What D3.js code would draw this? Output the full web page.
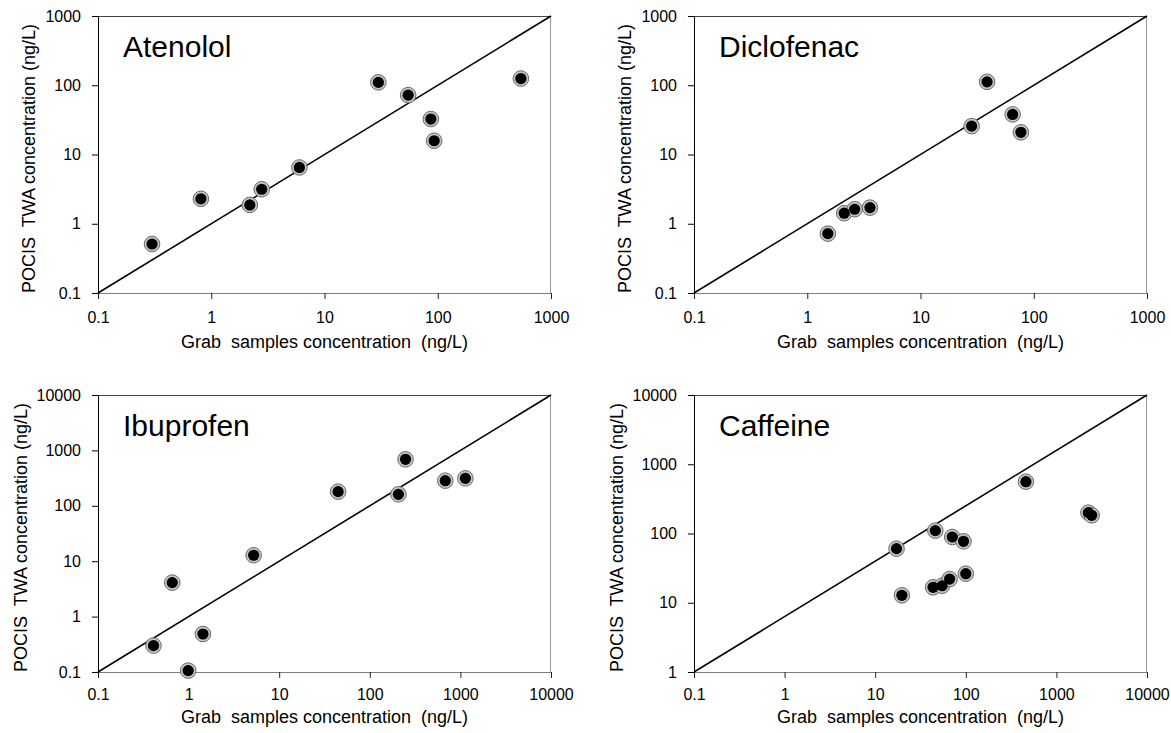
<!DOCTYPE html>
<html>
<head>
<meta charset="utf-8">
<script src="https://cdn.jsdelivr.net/npm/d3@7"></script>
<style>
  html, body { margin: 0; padding: 0; background: #fff; }
  svg text { font-family: "Liberation Sans", Arial, sans-serif; fill: #000; }
</style>
</head>
<body>
<svg id="chart" width="1171" height="733"></svg>
<script>
// Grab-sample vs POCIS TWA concentrations (ng/L), one pair of arrays per compound
const atenololGrab  = [0.30, 0.81, 2.19, 2.79, 6.0, 29.9, 54.8, 86.9, 93.0, 542];
const atenololPocis = [0.51, 2.29, 1.87, 3.15, 6.5, 110, 72.0, 32.5, 15.8, 125];

const diclofenacGrab  = [1.52, 2.12, 2.62, 3.58, 28.3, 38.7, 65.1, 77.0];
const diclofenacPocis = [0.72, 1.42, 1.62, 1.71, 25.7, 112, 37.9, 20.9];

const ibuprofenGrab  = [0.41, 0.66, 0.99, 1.44, 5.22, 44.7, 207, 248, 681, 1135];
const ibuprofenPocis = [0.30, 4.10, 0.106, 0.485, 12.8, 180, 161, 690, 284, 313];

const caffeineGrab  = [17.2, 19.7, 46.1, 43.5, 54.8, 66.3, 70.9, 94.4, 100, 461, 2254, 2455];
const caffeinePocis = [60.4, 12.8, 110, 16.7, 17.6, 22.0, 89.0, 77.1, 26.3, 560, 200, 183];

// axis ranges and tick labels
const xTicksSmall = ["0.1", "1", "10", "100", "1000"];
const xTicksLarge = ["0.1", "1", "10", "100", "1000", "10000"];
const yTicksAten  = ["0.1", "1", "10", "100", "1000"];
const yTicksIbu   = ["0.1", "1", "10", "100", "1000", "10000"];
const yTicksCaf   = ["1", "10", "100", "1000", "10000"];

const compounds = ["Atenolol", "Diclofenac", "Ibuprofen", "Caffeine"];
const xLabel = "Grab  samples concentration  (ng/L)";
const yLabel = "POCIS  TWA concentration (ng/L)";

const panels = [
  { name: compounds[0], gx: atenololGrab,   py: atenololPocis,   xt: xTicksSmall, yt: yTicksAten, left: 98,  top: 16,  xOff: 55, yOff: -63 },
  { name: compounds[1], gx: diclofenacGrab, py: diclofenacPocis, xt: xTicksSmall, yt: yTicksAten, left: 694, top: 16,  xOff: 55, yOff: -63 },
  { name: compounds[2], gx: ibuprofenGrab,  py: ibuprofenPocis,  xt: xTicksLarge, yt: yTicksIbu,  left: 98,  top: 395, xOff: 51, yOff: -71 },
  { name: compounds[3], gx: caffeineGrab,   py: caffeinePocis,   xt: xTicksLarge, yt: yTicksCaf,  left: 694, top: 395, xOff: 51, yOff: -71 }
];

const W = 453, H = 277;
const svg = d3.select("#chart");

panels.forEach(p => {
  const xVals = p.xt.map(Number), yVals = p.yt.map(Number);
  const x = d3.scaleLog().domain([xVals[0], xVals[xVals.length - 1]]).range([0, W]);
  const y = d3.scaleLog().domain([yVals[0], yVals[yVals.length - 1]]).range([H, 0]);

  const g = svg.append("g").attr("transform", `translate(${p.left},${p.top})`);

  // frame: top and right edges
  g.append("line").attr("x1", 0).attr("x2", W).attr("y1", 0.5).attr("y2", 0.5)
    .attr("stroke", "#444").attr("stroke-width", 1);
  g.append("line").attr("x1", W - 0.5).attr("x2", W - 0.5).attr("y1", 0).attr("y2", H)
    .attr("stroke", "#999").attr("stroke-width", 1);

  // x axis
  const xa = g.append("g").attr("transform", `translate(0,${H})`)
    .call(d3.axisBottom(x).tickValues(xVals).tickFormat((d, i) => p.xt[i]).tickSize(6).tickSizeOuter(0));
  xa.select(".domain").attr("stroke", "#7f7f7f");
  xa.selectAll(".tick line").attr("stroke", "#222");
  xa.selectAll(".tick text").attr("y", null).attr("dy", null)
    .attr("y", p.top < 100 ? 30 : 28).attr("font-size", 16);
  xa.attr("font-family", null).attr("font-size", null);

  // y axis
  const ya = g.append("g")
    .call(d3.axisLeft(y).tickValues(yVals).tickFormat((d, i) => p.yt[i]).tickSize(6).tickSizeOuter(0).tickPadding(11));
  ya.select(".domain").attr("stroke", "#000");
  ya.selectAll(".tick line").attr("stroke", "#000");
  ya.selectAll(".tick text").attr("font-size", 16);
  ya.attr("font-family", null).attr("font-size", null);

  // reference diagonal across the plot area
  const diag = [[x.domain()[0], y.domain()[0]], [x.domain()[1], y.domain()[1]]];
  g.append("path").datum(diag)
    .attr("d", d3.line().x(d => x(d[0])).y(d => y(d[1])))
    .attr("stroke", "#000").attr("stroke-width", 1.6).attr("fill", "none");

  // points: grey ringed black disks
  const pts = p.gx.map((v, i) => [v, p.py[i]]);
  const pg = g.append("g");
  pg.selectAll("circle.ring").data(pts).join("circle").attr("class", "ring")
    .attr("cx", d => x(d[0])).attr("cy", d => y(d[1])).attr("r", 7.8)
    .attr("fill", "#c4c4c4").attr("stroke", "#6a6a6a").attr("stroke-width", 1);
  pg.selectAll("circle.dot").data(pts).join("circle").attr("class", "dot")
    .attr("cx", d => x(d[0])).attr("cy", d => y(d[1])).attr("r", 5.6)
    .attr("fill", "#000");

  // compound name
  g.append("text").attr("x", 25).attr("y", 41).attr("font-size", 30).text(p.name);

  // axis titles
  g.append("text").attr("x", W / 2).attr("y", H + p.xOff).attr("text-anchor", "middle")
    .attr("font-size", 18).style("white-space", "pre").text(xLabel);
  g.append("text").attr("transform", `translate(${p.yOff},${H / 2 + 4}) rotate(-90)`)
    .attr("text-anchor", "middle").attr("font-size", 18).style("white-space", "pre").text(yLabel);
});
</script>
</body>
</html>
